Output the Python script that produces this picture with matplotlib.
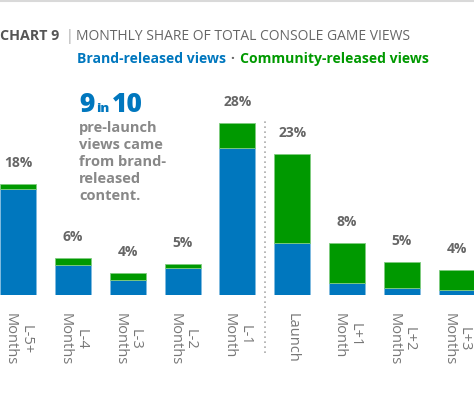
import matplotlib.pyplot as plt
import numpy as np

plt.rcParams['font.family'] = ['Open Sans', 'DejaVu Sans']

# data (share of total views, %)
cats = ["L-5+\nMonths", "L-4\nMonths", "L-3\nMonths", "L-2\nMonths", "L-1\nMonth",
        "Launch", "L+1\nMonth", "L+2\nMonths", "L+3\nMonths"]
brand = [17.2, 4.9, 2.4, 4.4, 23.9, 8.4, 1.9, 1.2, 0.8]
community = [0.8, 1.1, 1.2, 0.6, 4.1, 14.5, 6.5, 4.2, 3.2]
labels = ["18%", "6%", "4%", "5%", "28%", "23%", "8%", "5%", "4%"]

BLUE = "#0077be"
GREEN = "#009900"
W, H = 474, 395

fig = plt.figure(figsize=(W / 100, H / 100), dpi=100)
ax = fig.add_axes([0, 100 / H, 1, 295 / H])

x = np.arange(len(cats))
brand = np.array(brand)
community = np.array(community)
ax.bar(x, brand, width=0.66, color=BLUE, edgecolor="#7fbbe0", linewidth=0.6)
ax.bar(x, community, bottom=brand, width=0.66, color=GREEN, edgecolor="#80cc80", linewidth=0.6)

ax.set_xlim(-18.2 / 54.8, (W - 18.2) / 54.8)
ax.set_ylim(0, 295 / 6.15)

tot = brand + community
for xi, t, lab in zip(x, tot, labels):
    ax.text(xi, t + 21 / 6.15, lab, ha="center", va="center", fontsize=10,
            fontweight="bold", color="#666666")

# launch divider
ax.plot([4.5, 4.5], [-58 / 6.15, 174 / 6.15], color="#aaaaaa", linestyle=(0, (1, 2)),
        linewidth=1.2, clip_on=False)

ax.set_xticks(x)
ax.set_xticklabels(cats, rotation=270, fontsize=10.5, color="#777777",
                   va="top", ha="center", linespacing=1.05)
ax.tick_params(axis="x", length=0, pad=13)
ax.set_yticks([])
for s in ax.spines.values():
    s.set_visible(False)
ax.patch.set_alpha(0)

def fy(py):
    return 1 - py / H

# top rule
fig.add_artist(plt.Line2D([0, 1], [fy(0.5), fy(0.5)], color="#d9d9d9", linewidth=1.5))

# title
fig.text(0, fy(36), "CHART 9", fontsize=10.3, fontweight="bold", color="#555555", va="center")
fig.text(66 / W, fy(36), "|", fontsize=10, color="#aaaaaa", va="center")
fig.text(76 / W, fy(36), "MONTHLY SHARE OF TOTAL CONSOLE GAME VIEWS", fontsize=10,
         color="#666666", va="center")
fig.text(77 / W, fy(59), "Brand-released views", fontsize=10.1, fontweight="bold",
         color=BLUE, va="center")
fig.text(230 / W, fy(59), "·", fontsize=10, fontweight="bold", color="#666666", va="center")
fig.text(240 / W, fy(59), "Community-released views", fontsize=10.1, fontweight="bold",
         color=GREEN, va="center")

# callout
fig.text(79 / W, fy(111.5), "9", fontsize=19, fontweight=800, color=BLUE, va="baseline")
fig.text(96.5 / W, fy(111.5), "in", fontsize=9.5, fontweight=800, color=BLUE, va="baseline")
fig.text(111.5 / W, fy(111.5), "10", fontsize=19, fontweight=800, color=BLUE, va="baseline")
fig.text(79 / W, fy(121), "pre-launch\nviews came\nfrom brand-\nreleased\ncontent.",
         fontsize=10.5, fontweight="bold", color="#888888", va="top", linespacing=1.27)

fig.savefig("out.png", dpi=100)
